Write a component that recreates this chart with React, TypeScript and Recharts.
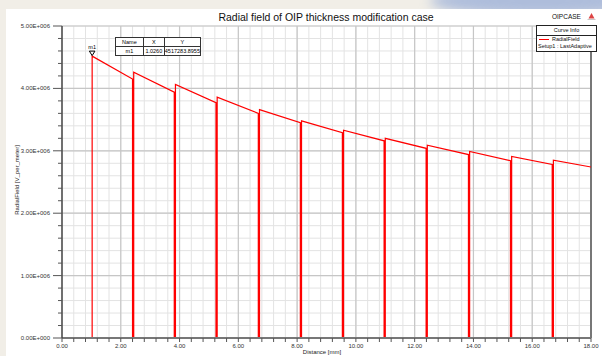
import React from 'react'
import { CartesianGrid, Line, LineChart, ReferenceDot, ReferenceLine, XAxis, YAxis } from 'recharts';

// radial field along the path, one entry per insulation layer
const layerStart = [1.026, 2.44, 3.86, 5.28, 6.72, 8.15, 9.58, 11.0, 12.43, 13.87, 15.3, 16.72];
const layerEnd = [2.4, 3.82, 5.24, 6.68, 8.11, 9.54, 10.96, 12.39, 13.83, 15.26, 16.68, 18.0];
const fieldStart = [4517283.8955, 4260000, 4065000, 3860000, 3660000, 3480000, 3330000, 3200000, 3090000, 2990000, 2910000, 2850000];
const fieldEnd = [4150000, 3940000, 3770000, 3600000, 3450000, 3290000, 3160000, 3040000, 2940000, 2840000, 2780000, 2740000];

const markerName = "m1";
const markerX = 1.026;
const markerY = 4517283.8955;

const xTicks = Array.from({ length: 46 }, (_, i) => +(i * 0.4).toFixed(1));
const yTicks = Array.from({ length: 26 }, (_, i) => i * 200000);
const xMajor = xTicks.filter((_, i) => i % 5 === 0);
const yMajor = yTicks.filter((_, i) => i % 5 === 0);

const FONT = "Arial, 'Liberation Sans', sans-serif";
const RED = "#ff0000";

const data: { x: number; y: number }[] = [{ x: 0, y: 0 }];
layerStart.forEach((s, i) => {
    data.push({ x: s, y: 0 });
    data.push({ x: s, y: fieldStart[i] });
    data.push({ x: layerEnd[i], y: fieldEnd[i] });
    if (i < layerStart.length - 1) data.push({ x: layerEnd[i], y: 0 });
});

const sci = (v: number) => {
    const [m, e] = v.toExponential(2).split('e');
    const n = Math.abs(parseInt(e, 10));
    return `${m}E${e[0] === '-' ? '-' : '+'}${String(n).padStart(3, '0')}`;
};

const isMajor = (list: number[], v: number) => list.some(m => Math.abs(m - v) < 1e-6);

const YTick = ({ x, y, payload }: any) => {
    const major = isMajor(yMajor, payload.value);
    return (
        <g>
            <line x1={x - (major ? 9 : 4)} x2={x} y1={y} y2={y} stroke="#555" strokeWidth={1} />
            {major && (
                <text x={x - 12} y={y} dy={2} textAnchor="end" fontSize={6} fontFamily={FONT} fill="#333">
                    {sci(payload.value)}
                </text>
            )}
        </g>
    );
};

const XTick = ({ x, y, payload }: any) => {
    const major = isMajor(xMajor, payload.value);
    return (
        <g>
            <line x1={x} x2={x} y1={y} y2={y + 4} stroke="#555" strokeWidth={1} />
            {major && (
                <text x={x} y={y + 8} dy={2} textAnchor="middle" fontSize={6} fontFamily={FONT} fill="#333">
                    {payload.value.toFixed(2)}
                </text>
            )}
        </g>
    );
};

const MarkerShape = ({ cx, cy }: any) => (
    <g>
        <path d={`M${cx - 2.8},${cy - 5} L${cx + 2.8},${cy - 5} L${cx},${cy - 0.5} Z`} fill="white" stroke="#000" strokeWidth={1} />
        <text x={cx} y={cy - 7} textAnchor="middle" fontSize={5.5} fontFamily={FONT} fill="#000">{markerName}</text>
    </g>
);

const cell: React.CSSProperties = { border: '1px solid #333', padding: 0, textAlign: 'center', height: 8 };

const RadialFieldChart: React.FC = () => {
    return (
        <div style={{ position: 'absolute', left: 0, top: 0, width: 602, height: 356, overflow: 'hidden', background: '#f1eee7', fontFamily: FONT }}>
            <div style={{ position: 'absolute', left: 430, top: -14, width: 220, height: 30, borderRadius: '50%', background: '#aebddb', filter: 'blur(6px)' }} />
            <div style={{ position: 'absolute', left: 6, top: 9, width: 596, height: 347, background: '#fff' }}>
                <LineChart width={596} height={347} data={data} margin={{ top: 17, right: 11, left: 0, bottom: 0 }}>
                    <CartesianGrid stroke="#e3e3e3" strokeWidth={1} />
                    {xMajor.slice(1, -1).map(v => (
                        <ReferenceLine key={`vx-${v}`} x={v} stroke="#c6c6c6" strokeWidth={1.2} />
                    ))}
                    {yMajor.slice(1).map(v => (
                        <ReferenceLine key={`hy-${v}`} y={v} stroke="#c6c6c6" strokeWidth={1.2} />
                    ))}
                    <ReferenceLine x={18} stroke="#777" strokeWidth={2} />
                    <XAxis dataKey="x" type="number" domain={[0, 18]} ticks={xTicks} interval={0}
                        height={18} tickSize={0} tickMargin={0} tick={<XTick />} tickLine={false}
                        axisLine={{ stroke: '#777', strokeWidth: 2 }} allowDataOverflow />
                    <YAxis type="number" domain={[0, 5000000]} ticks={yTicks} interval={0}
                        width={56} tickSize={0} tickMargin={0} tick={<YTick />} tickLine={false}
                        axisLine={{ stroke: '#444', strokeWidth: 1.5 }} allowDataOverflow />
                    <Line type="linear" dataKey="y" stroke={RED} strokeWidth={1.2} dot={false} isAnimationActive={false} />
                    <ReferenceDot x={markerX} y={markerY} shape={<MarkerShape />} />
                </LineChart>
            </div>

            <div style={{ position: 'absolute', left: 0, width: 652, top: 11, textAlign: 'center', fontSize: 10.5, color: '#111', whiteSpace: 'nowrap' }}>
                Radial field of OIP thickness modification case
            </div>
            <div style={{ position: 'absolute', left: 552, top: 13, fontSize: 6.5, color: '#111' }}>OIPCASE</div>
            <svg style={{ position: 'absolute', left: 587, top: 12 }} width={9} height={9}>
                <path d="M4.5,1 L7.5,6.5 L1.5,6.5 Z" fill="#d44" />
                <rect x={0.5} y={7} width={8} height={0.8} fill="#bbb" />
            </svg>

            <table style={{ position: 'absolute', left: 115, top: 37, width: 86, borderCollapse: 'collapse', fontSize: 5.5, background: '#fff', border: '1.5px solid #222' }}>
                <tbody>
                    <tr>
                        <td style={{ ...cell, width: 27 }}>Name</td>
                        <td style={{ ...cell, width: 20 }}>X</td>
                        <td style={cell}>Y</td>
                    </tr>
                    <tr>
                        <td style={cell}>{markerName}</td>
                        <td style={cell}>{markerX.toFixed(4)}</td>
                        <td style={cell}>{markerY.toFixed(4)}</td>
                    </tr>
                </tbody>
            </table>

            <div style={{ position: 'absolute', left: 536, top: 25, width: 59, height: 25, border: '1px solid #222', background: '#fff', fontSize: 5.5, color: '#111' }}>
                <div style={{ textAlign: 'center', height: 9, lineHeight: '9px', borderBottom: '1px solid #222' }}>Curve Info</div>
                <div style={{ position: 'relative', height: 7, lineHeight: '7px' }}>
                    <span style={{ position: 'absolute', left: 2, top: 3, width: 10, height: 1.2, background: RED }} />
                    <span style={{ position: 'absolute', left: 15 }}>RadialField</span>
                </div>
                <div style={{ height: 7, lineHeight: '7px', paddingLeft: 1, whiteSpace: 'nowrap' }}>Setup1 : LastAdaptive</div>
            </div>

            <div style={{ position: 'absolute', left: 322 - 40, width: 80, top: 349, textAlign: 'center', fontSize: 6, color: '#222' }}>Distance [mm]</div>
            <div style={{ position: 'absolute', left: 17 - 50, top: 181 - 4, width: 100, textAlign: 'center', fontSize: 6, color: '#222', transform: 'rotate(-90deg)', whiteSpace: 'nowrap' }}>
                RadialField [V_per_meter]
            </div>
        </div>
    )
}

export default function App() {
    return <RadialFieldChart />
}
